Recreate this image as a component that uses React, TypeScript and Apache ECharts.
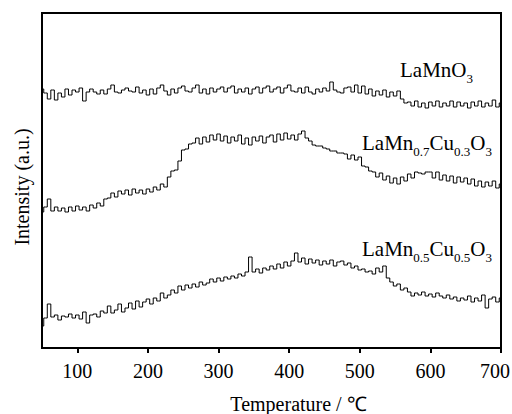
import React, { useEffect, useRef } from "react";
import * as echarts from "echarts";

// Temperature grid (°C), 5 °C sampling
const temps: number[] = Array.from({ length: 131 }, (_, i) => 50 + i * 5);

const xTickValues = [100, 200, 300, 400, 500, 600, 700];

// Intensity (a.u.), offset stacked
const lamno3 = [
  259, 255, 249, 258, 248, 255, 251, 259, 253, 258, 256, 260, 247, 256, 259, 256, 254, 258, 254, 259,
  263, 256, 255, 258, 260, 257, 256, 261, 255, 258, 253, 259, 254, 260, 263, 257, 253, 259, 255, 260,
  262, 257, 256, 260, 263, 255, 259, 254, 260, 256, 259, 261, 256, 260, 262, 255, 259, 256, 260, 254,
  259, 261, 255, 260, 262, 256, 259, 261, 255, 260, 263, 257, 256, 260, 255, 261, 256, 254, 259, 256,
  260, 257, 266, 258, 256, 255, 260, 261, 256, 263, 255, 262, 254, 259, 252, 257, 253, 258, 251, 256,
  252, 257, 249, 245, 246, 242, 247, 241, 245, 240, 246, 242, 247, 241, 245, 242, 247, 241, 246, 242,
  245, 240, 246, 242, 247, 241, 245, 242, 248, 241, 245,
];

const lamn07cu03o3 = [
  136, 141, 149, 137, 141, 137, 140, 136, 141, 137, 142, 138, 141, 137, 143, 140, 145, 142, 149, 150,
  155, 151, 157, 154, 158, 153, 159, 155, 158, 154, 159, 156, 161, 158, 164, 161, 171, 177, 178, 187,
  198, 199, 204, 205, 210, 204, 211, 206, 213, 208, 214, 207, 212, 205, 211, 207, 213, 204, 210, 203,
  211, 207, 212, 205, 211, 213, 206, 214, 208, 215, 209, 213, 208, 214, 217, 210, 207, 203, 202, 202,
  200, 199, 197, 197, 195, 195, 194, 189, 193, 188, 191, 182, 181, 177, 176, 171, 175, 168, 172, 165,
  170, 164, 171, 167, 174, 170, 176, 175, 174, 176, 176, 170, 176, 168, 173, 167, 172, 165, 171, 166,
  170, 164, 169, 162, 167, 161, 166, 162, 167, 160, 164,
];

const lamn05cu05o3 = [
  22, 30, 44, 31, 33, 28, 32, 31, 34, 30, 33, 29, 36, 25, 33, 34, 31, 37, 35, 42,
  35, 38, 44, 36, 40, 45, 39, 47, 41, 46, 49, 44, 50, 47, 55, 50, 53, 58, 55, 62,
  58, 63, 60, 64, 61, 66, 63, 65, 69, 66, 70, 67, 71, 69, 72, 70, 74, 72, 76, 91,
  76, 79, 75, 80, 78, 82, 79, 84, 80, 86, 82, 87, 95, 86, 90, 84, 89, 85, 88, 83,
  87, 84, 88, 82, 86, 87, 83, 85, 80, 82, 78, 79, 76, 77, 74, 80, 76, 82, 70, 66,
  62, 64, 58, 60, 56, 52, 55, 53, 56, 52, 54, 51, 55, 52, 50, 53, 49, 51, 47, 50,
  48, 52, 46, 50, 47, 53, 40, 49, 51, 46, 50,
];

const seriesNames = ["LaMnO3", "LaMn0.7Cu0.3O3", "LaMn0.5Cu0.5O3"];
const seriesValues = [lamno3, lamn07cu03o3, lamn05cu05o3];

const SERIF = "'Liberation Serif', 'Times New Roman', serif";

function labelRich(main: number, sub: number) {
  return {
    m: { fontSize: main, fontFamily: SERIF, color: "#000" },
    s: { fontSize: sub, fontFamily: SERIF, color: "#000", padding: [18, 0, 0, 0] },
  };
}

export default function App() {
  const ref = useRef<HTMLDivElement>(null);
  useEffect(() => {
    if (!ref.current) return;
    const chart = echarts.init(ref.current, undefined, { renderer: "svg" });
    const series = seriesValues.map((vals, k) => ({
      name: seriesNames[k],
      type: "line",
      step: "middle",
      data: vals.map((v, i) => [temps[i], v]),
      showSymbol: false,
      symbol: "none",
      lineStyle: { color: "#000", width: 1 },
      itemStyle: { color: "#000" },
    }));
    const lastTick = xTickValues[xTickValues.length - 1];
    chart.setOption({
      animation: false,
      backgroundColor: "#fff",
      grid: {
        left: 42,
        right: 11,
        top: 13,
        bottom: 66,
        outerBoundsMode: "none",
        containLabel: false,
        show: true,
        borderColor: "#000",
        borderWidth: 2,
        backgroundColor: "transparent",
      },
      xAxis: {
        type: "value",
        min: 50,
        max: 700,
        axisLine: { show: false },
        splitLine: { show: false },
        axisTick: {
          show: true,
          length: 5,
          lineStyle: { color: "#000", width: 2 },
          customValues: xTickValues,
        },
        axisLabel: {
          customValues: xTickValues,
          fontSize: 20,
          fontFamily: SERIF,
          color: "#000",
          margin: 13,
          formatter: (v: number) => (v === lastTick ? `{e|${v}}` : `${v}`),
          rich: {
            e: { fontSize: 20, fontFamily: SERIF, color: "#000", padding: [0, 12, 0, 0] },
          },
        },
        name: "Temperature / ℃",
        nameLocation: "middle",
        nameGap: 46,
        nameTextStyle: {
          fontSize: 20,
          fontFamily: SERIF,
          color: "#000",
          padding: [0, 0, 0, 54],
        },
      },
      yAxis: {
        type: "value",
        min: 0,
        max: 335,
        axisLine: { show: false },
        axisTick: { show: false },
        axisLabel: { show: false },
        splitLine: { show: false },
        name: "Intensity (a.u.)",
        nameLocation: "middle",
        nameGap: 10,
        nameTextStyle: {
          fontSize: 20,
          fontFamily: SERIF,
          color: "#000",
          padding: [0, 13, 0, 0],
        },
      },
      graphic: [
        {
          type: "text",
          left: 400,
          top: 59,
          style: { text: "{m|LaMnO}{s|3}", rich: labelRich(21, 13) },
        },
        {
          type: "text",
          left: 362,
          top: 132,
          style: {
            text: "{m|LaMn}{s|0.7}{m|Cu}{s|0.3}{m|O}{s|3}",
            rich: labelRich(21, 13),
          },
        },
        {
          type: "text",
          left: 362,
          top: 238,
          style: {
            text: "{m|LaMn}{s|0.5}{m|Cu}{s|0.5}{m|O}{s|3}",
            rich: labelRich(21, 13),
          },
        },
      ],
      series,
    });
    return () => chart.dispose();
  }, []);
  return <div ref={ref} style={{ width: 512, height: 414, position: "absolute", left: 0, top: 0 }} />;
}
